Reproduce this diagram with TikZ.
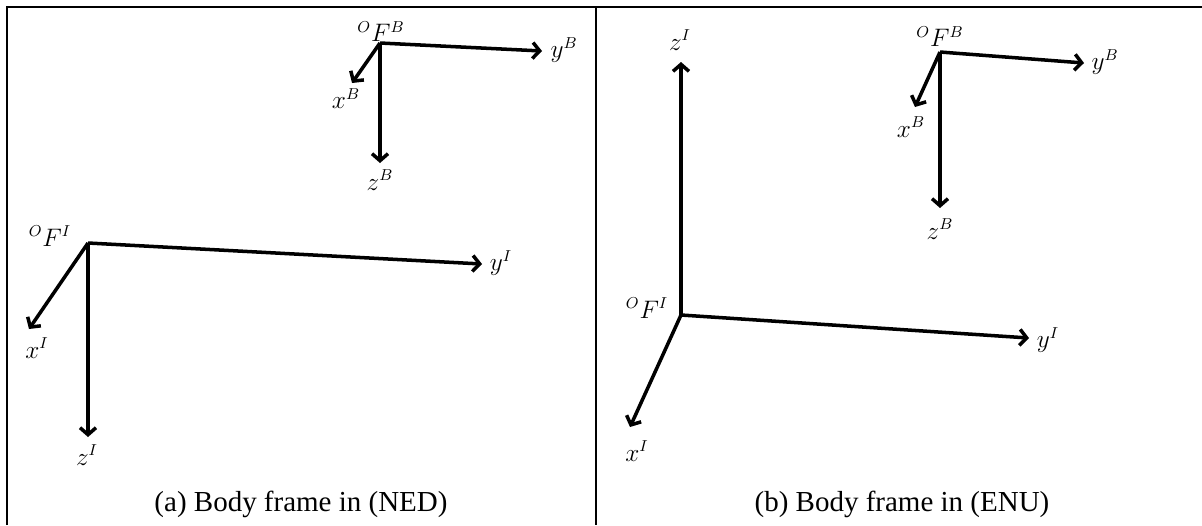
\documentclass[tikz,border=0pt]{standalone}
\usepackage{fontspec}
\setmainfont{Liberation Serif}
\usetikzlibrary{arrows.meta}

\begin{document}
\begin{tikzpicture}[x=0.02cm,y=-0.02cm,
  axis/.style={-{Straight Barb[length=1.4mm,width=3.2mm]},line width=2pt},
  lbl/.style={font=\fontsize{13.5}{16}\selectfont,inner sep=1pt},
  capt/.style={font=\fontsize{16.5}{20}\selectfont,inner sep=0pt},
  rule/.style={line width=0.9pt}]
\useasboundingbox (0,0) rectangle (1202,525);
\draw[rule](7,525)--(7,7)--(1202,7);
\draw[rule](596,7)--(596,525);
% (a) NED
\coordinate(oIa) at (88,243);
\coordinate(xIa) at (29,329);
\coordinate(yIa) at (482,264);
\coordinate(zIa) at (88,437);
\draw[axis](oIa)--(xIa);
\draw[axis](oIa)--(yIa);
\draw[axis](oIa)--(zIa);
\node[lbl](fIa) at (50,236){${}^{O}F^{I}$};
\node[lbl](lxIa) at (37,348){$x^{I}$};
\node[lbl](lyIa) at (501,263){$y^{I}$};
\node[lbl](lzIa) at (87,455){$z^{I}$};
\coordinate(oBa) at (380,43);
\coordinate(xBa) at (352,83);
\coordinate(yBa) at (542,51);
\coordinate(zBa) at (380,163);
\draw[axis](oBa)--(xBa);
\draw[axis](oBa)--(yBa);
\draw[axis](oBa)--(zBa);
\node[lbl](fBa) at (381,32){${}^{O}F^{B}$};
\node[lbl](lxBa) at (346,99){$x^{B}$};
\node[lbl](lyBa) at (564,50){$y^{B}$};
\node[lbl](lzBa) at (380,180){$z^{B}$};
\node[capt](capa) at (301,504){(a) Body frame in (NED)};
% (b) ENU
\coordinate(oIb) at (681,315);
\coordinate(xIb) at (630,427);
\coordinate(yIb) at (1029,338);
\coordinate(zIb) at (681,62);
\draw[axis](oIb)--(xIb);
\draw[axis](oIb)--(yIb);
\draw[axis](oIb)--(zIb);
\node[lbl](fIb) at (647,308){${}^{O}F^{I}$};
\node[lbl](lxIb) at (637,451){$x^{I}$};
\node[lbl](lyIb) at (1048,340){$y^{I}$};
\node[lbl](lzIb) at (680,40){$z^{I}$};
\coordinate(oBb) at (940,52);
\coordinate(xBb) at (915,107);
\coordinate(yBb) at (1084,63);
\coordinate(zBb) at (940,208);
\draw[axis](oBb)--(xBb);
\draw[axis](oBb)--(yBb);
\draw[axis](oBb)--(zBb);
\node[lbl](fBb) at (940,37){${}^{O}F^{B}$};
\node[lbl](lxBb) at (911,127){$x^{B}$};
\node[lbl](lyBb) at (1105,62){$y^{B}$};
\node[lbl](lzBb) at (940,229){$z^{B}$};
\node[capt](capb) at (902,504){(b) Body frame in (ENU)};
\end{tikzpicture}
\end{document}
